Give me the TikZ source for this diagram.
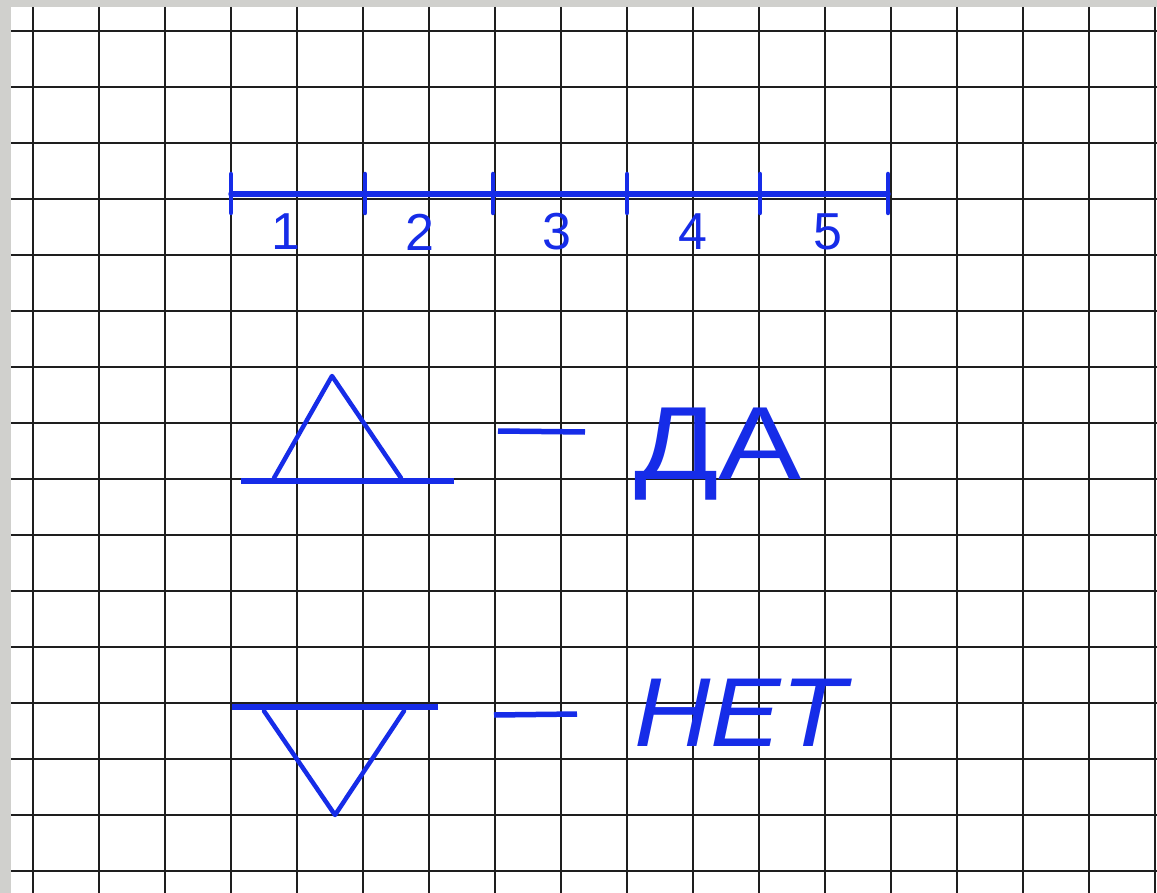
\documentclass[tikz,border=0pt]{standalone}
\usepackage{fontspec}
\setmainfont{Liberation Sans}
\newfontfamily\hand{Liberation Sans}
\definecolor{ink}{RGB}{22,44,232}
\definecolor{gridc}{RGB}{30,30,30}
\definecolor{frame}{RGB}{208,208,205}
\tikzset{
  gridline/.style={draw=gridc, line width=2.2pt},
  penline/.style={draw=ink, line width=5.5pt, line cap=round},
  penthin/.style={draw=ink, line width=4.5pt, line cap=round, line join=round},
  digit/.style={text=ink, font=\hand\fontsize{52}{52}\selectfont, inner sep=0pt, anchor=center},
  word/.style={text=ink, inner sep=0pt, anchor=base west}
}
\begin{document}
\begin{tikzpicture}[x=1pt,y=-1pt]
\useasboundingbox (0,0) rectangle (1157,893);
\fill[frame] (0,0) rectangle (1157,893);
\fill[white] (11,7) rectangle (1157,893);
% grid
\foreach \i in {0,...,17} \draw[gridline] ({33+66*\i},7) -- ({33+66*\i},893);
\foreach \j in {0,...,15} \draw[gridline] (11,{31+56*\j}) -- (1157,{31+56*\j});
% number line
\coordinate (t0) at (231,194);
\coordinate (t1) at (365,194);
\coordinate (t2) at (493,194);
\coordinate (t3) at (627,194);
\coordinate (t4) at (760,194);
\coordinate (t5) at (888,194);
\draw[penline] (t0) -- (t5);
\foreach \k in {0,...,5} \draw[penthin] ([yshift=-19pt]t\k) -- ([yshift=20pt]t\k);
\node[digit] (n1) at (286,232) {1};
\node[digit] (n2) at (420,232) {2};
\node[digit] (n3) at (557,232) {3};
\node[digit] (n4) at (693,232) {4};
\node[digit] (n5) at (828,232) {5};
% yes symbol
\coordinate (ya) at (332,376);
\coordinate (yl) at (274,478);
\coordinate (yr) at (401,478);
\coordinate (ybl) at (241,481);
\coordinate (ybr) at (454,481);
\draw[penthin] (yl) -- (ya) -- (yr);
\draw[penline, line cap=butt] (ybl) -- (ybr);
\coordinate (yd1) at (498,431);
\coordinate (yd2) at (585,432);
\draw[penline, line cap=butt] (yd1) -- (yd2);
\node[word, font=\hand\fontsize{104}{104}\selectfont] (da) at (634,479) {\scalebox{1.2}[1]{ДА}};
% no symbol
\coordinate (nbl) at (232,707);
\coordinate (nbr) at (438,707);
\coordinate (nl) at (264,711);
\coordinate (nr) at (404,711);
\coordinate (na) at (335,815);
\draw[penline, line cap=butt] (nbl) -- (nbr);
\draw[penthin] (nl) -- (na) -- (nr);
\coordinate (nd1) at (494,715);
\coordinate (nd2) at (577,714);
\draw[penline, line cap=butt] (nd1) -- (nd2);
\node[word, font=\hand\itshape\fontsize{98}{98}\selectfont] (net) at (634,746) {\scalebox{1.08}[1]{НЕТ}};
\end{tikzpicture}
\end{document}
